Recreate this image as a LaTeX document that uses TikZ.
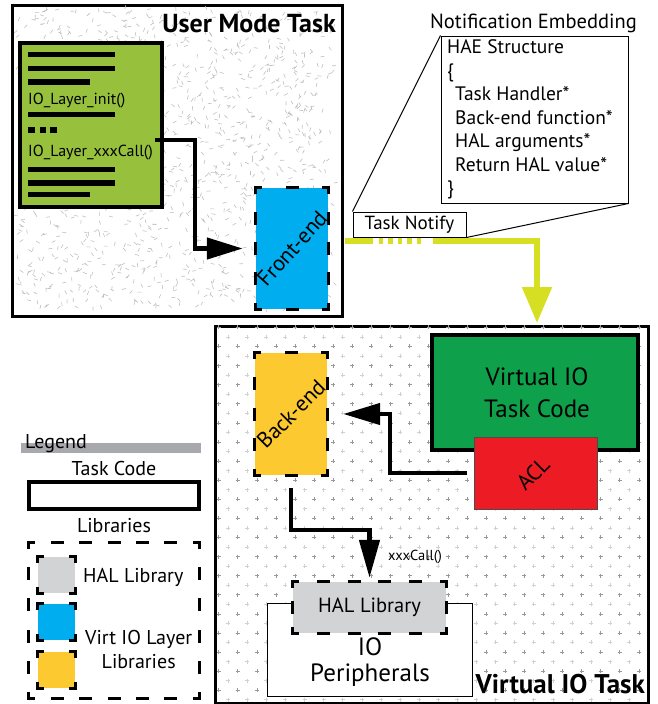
\documentclass[tikz,border=0pt]{standalone}
\usepackage{fontspec}
\setmainfont{PT Sans}
\usetikzlibrary{arrows.meta,calc}
\definecolor{codegreen}{RGB}{151,193,61}
\definecolor{feblue}{RGB}{0,174,239}
\definecolor{vgreen}{RGB}{14,160,75}
\definecolor{aclred}{RGB}{237,28,36}
\definecolor{beyellow}{RGB}{252,202,48}
\definecolor{halgray}{RGB}{209,211,212}
\definecolor{bargray}{RGB}{167,169,172}
\definecolor{arrowyel}{RGB}{215,223,35}
\newcommand\dashon{10}
\newcommand\dashgap{20}
\newcommand\dseg[4]{%
  \pgfmathsetmacro\dL{veclen((#3)-(#1),(#4)-(#2))}%
  \pgfmathsetmacro\dn{max(1,round(\dL/(\dashon+\dashgap)))}%
  \pgfmathsetmacro\dg{\dL/\dn-\dashon}%
  \pgfmathsetmacro\dph{\dashon/2}%
  \draw[dframe, dash pattern=on \dashon pt off \dg pt, dash phase=\dph pt] (#1,#2) -- (#3,#4);%
}
\newcommand\dframe[1]{%
  \path (#1.north west); \pgfgetlastxy{\fxa}{\fya}%
  \path (#1.south east); \pgfgetlastxy{\fxb}{\fyb}%
  \dseg{\fxa}{\fya}{\fxb}{\fya}%
  \dseg{\fxb}{\fya}{\fxb}{\fyb}%
  \dseg{\fxb}{\fyb}{\fxa}{\fyb}%
  \dseg{\fxa}{\fyb}{\fxa}{\fya}%
}
\begin{document}
\begin{tikzpicture}[x=1pt,y=-1pt,
  frame/.style={draw, line width=3pt, inner sep=0pt},
  codebox/.style={draw, line width=3.5pt, fill=codegreen, inner sep=0pt},
  vcodebox/.style={draw, line width=4pt, fill=vgreen, inner sep=0pt},
  libfill/.style={inner sep=0pt, draw=none},
  thinbox/.style={draw, line width=1pt, fill=white, inner sep=0pt},
  dframe/.style={line width=3pt, line cap=rect},
  txt/.style={inner sep=0pt},
  connector/.style={line width=4.5pt},
  yellowline/.style={line width=5.5pt, draw=arrowyel},
  texture/.style={line width=0.6pt, draw=black!25},
  plusA/.style={line width=0.6pt, draw=black!40},
  plusB/.style={line width=0.6pt, draw=black!18},
  callout/.style={line width=1pt},
  fA/.style={font=\fontsize{20}{24}\selectfont},
]
\useasboundingbox (0,0) rectangle (657,704);

% ---------------- User Mode Task ----------------
\node[frame, minimum width=330pt, minimum height=311pt] (umt) at (177,160.5) {};
\pgfmathsetseed{7}
\draw[texture] \foreach \i in {1,...,1300}{ ({17+317*rnd},{9+299*rnd}) -- ++({360*rnd}:4) };
\node[txt, anchor=base east, font=\bfseries\fontsize{26}{30}\selectfont] (umttitle) at (336,32) {User Mode Task};

\node[codebox, minimum width=142pt, minimum height=164pt] (code) at (91,125) {};
\foreach \yy/\xe in {54.5/115, 68.5/115, 82/90, 114.5/115, 169.5/115, 183/115, 194.5/90}
  \fill (28,\yy-2.6) rectangle (\xe,\yy+2.6);
\foreach \xs in {28.3,39.7,50.3}
  \fill (\xs,126.5) rectangle (\xs+6.5,133);
\node[txt, anchor=base west, font=\fontsize{16}{19}\selectfont] (init) at (28,104) {IO\_Layer\_init()};
\node[txt, anchor=base west, font=\fontsize{16}{19}\selectfont] (xcall) at (28,156) {IO\_Layer\_xxxCall()};

\node[libfill, fill=feblue, minimum width=72pt, minimum height=121pt] (fe) at (292,248.5) {};
\node[txt, rotate=48, font=\fontsize{22}{26}\selectfont] (fetext) at (fe.center) {Front-end};
\dframe{fe}

\coordinate (c1) at (155,140);
\draw[connector, -{Triangle[length=36pt,width=21pt]}] (c1) -- ++(40,0) |- ([xshift=-13pt]fe.west);

% ---------------- Notification ----------------
\node[txt, anchor=base, font=\fontsize{20.5}{24}\selectfont] (notif) at (533.5,28) {Notification Embedding};
\node[thinbox, minimum width=187pt, minimum height=167pt] (hae) at (534.5,119.5) {};
\node[txt, anchor=north west, align=left, font=\fontsize{19.5}{23.5}\selectfont] (haetext) at (447,39.5)
  {HAE Structure\\\{\\\hspace*{8pt}Task Handler*\\\hspace*{8pt}Back-end function*\\\hspace*{8pt}HAL arguments*\\\hspace*{8pt}Return HAL value*\\\}};
\node[thinbox, minimum width=113pt, minimum height=25pt, font=\fontsize{19}{22}\selectfont] (tn) at (409.5,224.5) {Task Notify};
\draw[callout] (tn.north west) -- (hae.north west);
\draw[callout] (tn.south east) -- (hae.south east);

\coordinate (ya) at (345,241);
\coordinate (yb) at (373,241);
\coordinate (yd1) at (378.5,241);
\coordinate (yd2) at (423,241);
\coordinate (yc) at (433,241);
\coordinate (yt) at (537,323);
\draw[yellowline] (ya) -- (yb);
\draw[yellowline, dash pattern=on 4.5pt off 5pt] (yd1) -- (yd2);
\draw[yellowline, -{Triangle[length=36pt,width=29pt]}] (yc) -| (yt);

% ---------------- Virtual IO Task ----------------
\node[frame, minimum width=433pt, minimum height=377pt] (vio) at (431.5,514.5) {};
\draw[plusA] \foreach \gx in {0,...,22}{ \foreach \gy in {0,...,19}{
  ({218.6+19.1*\gx-2},{327.3+19.1*\gy}) -- ++(4,0) ({218.6+19.1*\gx},{327.3+19.1*\gy-2}) -- ++(0,4) }};
\draw[plusB] \foreach \gx in {0,...,21}{ \foreach \gy in {0,...,19}{
  ({228.15+19.1*\gx-2},{336.85+19.1*\gy}) -- ++(4,0) ({228.15+19.1*\gx},{336.85+19.1*\gy-2}) -- ++(0,4) }};
\node[txt, anchor=base east, font=\bfseries\fontsize{27}{31}\selectfont] (viotitle) at (645,693) {Virtual IO Task};

\node[vcodebox, minimum width=206pt, minimum height=115pt] (vcode) at (535,392.5) {};
\node[txt, align=center, font=\fontsize{25}{32}\selectfont] (vctext) at (537,393) {Virtual IO\\Task Code};
\node[draw=black!70, line width=0.8pt, fill=aclred, inner sep=0pt, minimum width=123pt, minimum height=72pt] (acl) at (535.5,473) {};
\node[txt, rotate=45, font=\fontsize{22}{26}\selectfont] (acltext) at (533,473.5) {ACL};

\node[libfill, fill=beyellow, minimum width=72pt, minimum height=122pt] (be) at (291,414) {};
\node[txt, rotate=45, font=\fontsize{22}{26}\selectfont] (betext) at (be.center) {Back-end};
\dframe{be}

\draw[connector, -{Triangle[length=37pt,width=21pt]}] ([xshift=-7pt]acl.west) -| ([xshift=63pt]be.east) -- ([xshift=16pt]be.east);

\node[thinbox, minimum width=205pt, minimum height=93pt] (io) at (369.5,649.5) {};
\node[txt, align=center, font=\fontsize{25}{26}\selectfont] (iotext) at (370,662) {IO\\Peripherals};
\node[libfill, fill=halgray, minimum width=153pt, minimum height=51pt, font=\fontsize{20.5}{24}\selectfont] (hal) at (369.5,607.5) {HAL Library};
\dframe{hal}

\draw[connector, -{Triangle[length=38pt,width=20pt]}] ([yshift=-13pt]be.south) -- ++(0,42) -| ([yshift=4pt]hal.north);
\node[txt, anchor=base west, font=\fontsize{14.5}{17}\selectfont] (xxl) at (388,560) {xxxCall()};

% ---------------- Legend ----------------
\fill[bargray] (21,443) rectangle (201,453);
\node[txt, anchor=base west, fA] (legend) at (25,448) {Legend};
\node[txt, anchor=base, fA] (ltc) at (114,475) {Task Code};
\node[draw, line width=3.5pt, inner sep=0pt, minimum width=170pt, minimum height=27pt] (ltcbox) at (114,495.5) {};
\node[txt, anchor=base, fA] (llib) at (114,532) {Libraries};
\node[libfill, minimum width=170pt, minimum height=155pt] (lout) at (114,620.5) {};
\dframe{lout}
\node[libfill, fill=halgray, minimum width=37pt, minimum height=36pt] (lhal) at (56.5,575) {};
\dframe{lhal}
\node[libfill, fill=feblue, minimum width=37pt, minimum height=36pt] (lfe) at (56.5,622) {};
\dframe{lfe}
\node[libfill, fill=beyellow, minimum width=37pt, minimum height=36pt] (lbe) at (56.5,670) {};
\dframe{lbe}
\node[txt, anchor=base west, fA] (lhaltext) at (83,582) {HAL Library};
\node[txt, align=center, font=\fontsize{20}{24}\selectfont] (lvirt) at (138.7,649) {Virt IO Layer\\Libraries};
\end{tikzpicture}
\end{document}
